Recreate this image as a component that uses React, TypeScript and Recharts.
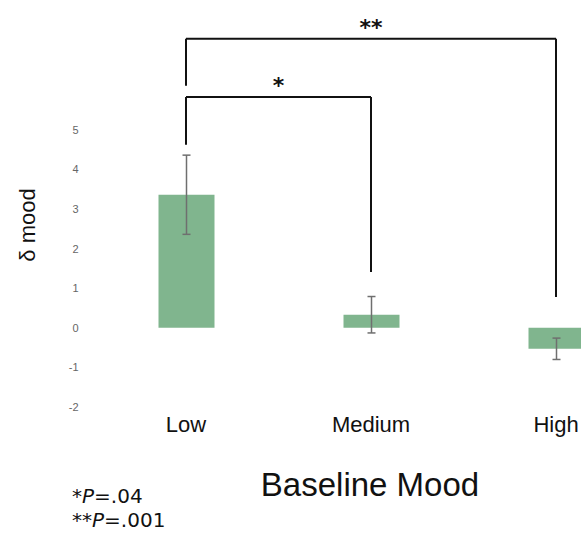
import { BarChart, Bar, XAxis, YAxis, ErrorBar, ReferenceLine } from 'recharts';

const categories = ['Low', 'Medium', 'High'];
const means = [3.36, 0.33, -0.53];
const errors = [1.0, 0.46, 0.27];
const yTicks = [-2, -1, 0, 1, 2, 3, 4, 5];

// significance brackets, in data units
const farBracket = { top: 7.3, leftEnd: 6.11, rightEnd: 0.78, label: '**' };
const nearBracket = { top: 5.83, leftEnd: 4.62, rightEnd: 1.41, label: '*' };
const footnotes = [
    { stars: '*', p: '.04' },
    { stars: '**', p: '.001' },
];

const data = categories.map((name, i) => ({ name, value: means[i], err: errors[i] }));

const font = 'Liberation Sans, Arial, sans-serif';

const YLabel = ({ viewBox }: any) => {
    const cx = viewBox.x + 19;
    const cy = viewBox.y + 214;
    return (
        <text x={cx} y={cy} transform={`rotate(-90, ${cx}, ${cy})`} textAnchor="middle"
            dominantBaseline="central" fontSize={22} fill="#111" fontFamily={font}>
            δ mood
        </text>
    );
};

const XLabel = ({ viewBox }: any) => (
    <text x={viewBox.x + 276.5} y={viewBox.y + 77} textAnchor="middle" dominantBaseline="central"
        fontSize={33} fill="#111" fontFamily={font}>
        Baseline Mood
    </text>
);

const lineStyle = { stroke: '#111', strokeWidth: 2 };
const starLabel = (value: string) => ({
    value, position: 'top' as const, offset: 4, fontSize: 22, fontWeight: 'bold', fill: '#111',
    fontFamily: 'DejaVu Sans, sans-serif',
});

export default function App() {
    return (
        <div style={{ position: 'relative', width: 581, height: 534, overflow: 'hidden' }}>
            <style>{'body { margin: 0; }'}</style>
            <div style={{ position: 'absolute', left: 8, top: 8 }}>
                <BarChart width={573} height={518} data={data}
                    margin={{ top: 3, right: 0, bottom: 0, left: 0.5 }}
                    style={{ fontFamily: font }}>
                    <XAxis dataKey="name" axisLine={false} tickLine={false} tickSize={0} tickMargin={9}
                        padding={{ left: 0, right: -67.5 }}
                        height={119} tick={{ fontSize: 22, fill: '#111' }}
                        label={<XLabel />} />
                    <YAxis type="number" domain={[-2, 8]} ticks={yTicks} axisLine={false} tickLine={false}
                        tickSize={0} tickMargin={15} width={85} tick={{ fontSize: 11, fill: '#666' }}
                        label={<YLabel />} />
                    <Bar dataKey="value" fill="#80b58e" barSize={56} isAnimationActive={false}>
                        <ErrorBar dataKey="err" width={4} stroke="#6f6f6f" strokeWidth={1.5} isAnimationActive={false} />
                    </Bar>

                    <ReferenceLine segment={[{ x: 'Low', y: farBracket.leftEnd }, { x: 'Low', y: farBracket.top }]}
                        ifOverflow="visible" {...lineStyle} />
                    <ReferenceLine segment={[{ x: 'Low', y: farBracket.top }, { x: 'High', y: farBracket.top }]}
                        ifOverflow="visible" {...lineStyle} label={starLabel(farBracket.label)} />
                    <ReferenceLine segment={[{ x: 'High', y: farBracket.top }, { x: 'High', y: farBracket.rightEnd }]}
                        ifOverflow="visible" {...lineStyle} />

                    <ReferenceLine segment={[{ x: 'Low', y: nearBracket.leftEnd }, { x: 'Low', y: nearBracket.top }]}
                        ifOverflow="visible" {...lineStyle} />
                    <ReferenceLine segment={[{ x: 'Low', y: nearBracket.top }, { x: 'Medium', y: nearBracket.top }]}
                        ifOverflow="visible" {...lineStyle} label={starLabel(nearBracket.label)} />
                    <ReferenceLine segment={[{ x: 'Medium', y: nearBracket.top }, { x: 'Medium', y: nearBracket.rightEnd }]}
                        ifOverflow="visible" {...lineStyle} />
                </BarChart>
            </div>
            <div style={{ position: 'absolute', left: 72, top: 487, fontFamily: 'DejaVu Sans, sans-serif',
                fontSize: 20, lineHeight: '18px', color: '#111' }}>
                {footnotes.map((f, i) => (
                    <div key={f.p} style={{ marginTop: i ? 6 : 0 }}>{f.stars}<i>P</i>={f.p}</div>
                ))}
            </div>
        </div>
    );
}
